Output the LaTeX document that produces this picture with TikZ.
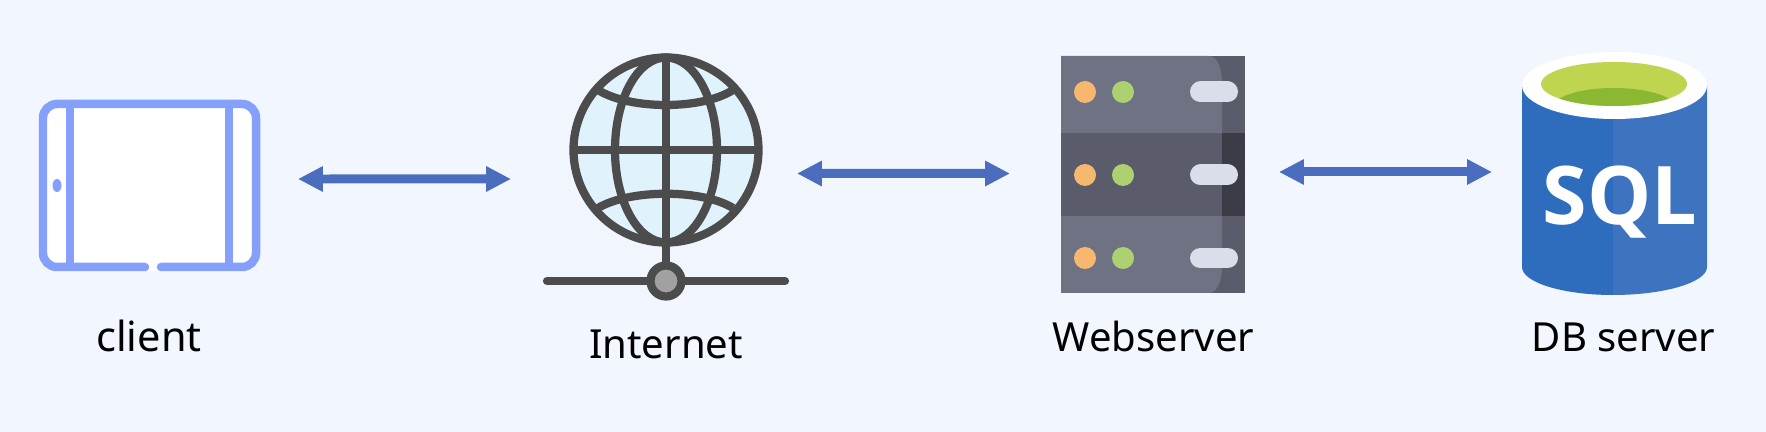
\documentclass[tikz,border=0pt]{standalone}
\usepackage{fontspec}
\setmainfont{Noto Sans}
\newfontfamily\sqlfont{Open Sans}
\usetikzlibrary{arrows.meta,patterns}
\definecolor{pagebg}{HTML}{F2F6FF}
\definecolor{tabletblue}{HTML}{84A0FB}
\definecolor{linkblue}{HTML}{4A6EBD}
\definecolor{globegrey}{HTML}{4C4C4C}
\definecolor{globesea}{HTML}{E0F2FB}
\definecolor{srvlight}{HTML}{6F7282}
\definecolor{srvdark}{HTML}{5A5C6B}
\definecolor{srvdeep}{HTML}{3C3C48}
\definecolor{ledorange}{HTML}{F5B86E}
\definecolor{ledgreen}{HTML}{ADD071}
\definecolor{slotgrey}{HTML}{D9DEEA}
\definecolor{sqlleft}{HTML}{2E6DBE}
\definecolor{sqlright}{HTML}{3E73C0}
\definecolor{sqlgreen}{HTML}{BFD550}
\definecolor{sqlmoss}{HTML}{8BB833}

\begin{document}
\begin{tikzpicture}[
  x=0.02cm, y=-0.02cm,
  iconbox/.style={inner sep=0pt, outer sep=0pt},
  lbl/.style={anchor=base, inner sep=0pt, font=\fontsize{22.8}{27}\selectfont},
  link/.style={linkblue, line width=0.18cm, {Triangle[length=0.5cm,width=0.48cm]}-{Triangle[length=0.5cm,width=0.48cm]}},
  tabletline/.style={tabletblue, line width=0.17cm},
  globeline/.style={globegrey, line width=0.165cm},
  ledo/.style={fill=ledorange},
  ledg/.style={fill=ledgreen},
  slot/.style={slotgrey, line width=0.42cm, line cap=round}
]
  \useasboundingbox (0,0) rectangle (1766,432);
  \fill[pagebg] (0,0) rectangle (1766,432);

  \node[iconbox, minimum width=4.42cm, minimum height=3.42cm] (client) at (149.5,185.5) {};
  \node[iconbox, minimum width=4.92cm, minimum height=4.92cm] (internet) at (666,177) {};
  \node[iconbox, minimum width=3.68cm, minimum height=4.74cm] (webserver) at (1153,174.5) {};
  \node[iconbox, minimum width=3.70cm, minimum height=4.86cm] (dbserver) at (1614.5,173.5) {};

  % tablet
  \fill[white, rounded corners=0.36cm] (39,100) rectangle (260,271);
  \draw[tabletline, line cap=round, rounded corners=0.28cm] (145,267) -- (43,267) -- (43,104) -- (256,104) -- (256,267) -- (161,267);
  \draw[tabletline] (70,104) -- (70,267);
  \draw[tabletline] (229,104) -- (229,267);
  \fill[tabletblue] (57,185.5) ellipse [x radius=4.5, y radius=6.5];

  % globe
  \fill[pagebg!99!gray] (543,54) rectangle (789,300);
  \fill[pattern=north east lines, pattern color=pagebg] (543,54) rectangle (789,300);
  \fill[globesea] (666,150) circle (92.5);
  \draw[globeline] (666,246) -- (666,281);
  \draw[globeline, line cap=round] (547,281) -- (785,281);
  \draw[globeline, fill=black!37] (666,281) circle (15.5);
  \draw[globeline] (666,150) ellipse [x radius=51, y radius=92.5];
  \draw[globeline] (666,57) -- (666,243);
  \draw[globeline] (573,150) -- (759,150);
  \draw[globeline] (598,90) .. controls (630,110) and (702,110) .. (733,90);
  \draw[globeline] (598,208) .. controls (630,189) and (702,189) .. (733,208);
  \draw[globeline] (666,150) circle (92.5);

  % rack
  \fill[srvdark] (1061,56) rectangle (1245,293);
  \fill[srvlight] (1061,56) -- (1209,56) .. controls (1217,56) and (1222,68) .. (1222,82) -- (1222,267) .. controls (1222,281) and (1217,293) .. (1209,293) -- (1061,293) -- cycle;
  \fill[srvdark] (1061,133) rectangle (1222,216);
  \fill[srvdeep] (1222,133) rectangle (1245,216);
  \fill[ledo] (1085,92) circle (11);
  \fill[ledg] (1123,92) circle (11);
  \draw[slot] (1200.5,92) -- (1227.5,92);
  \fill[ledo] (1085,175) circle (11);
  \fill[ledg] (1123,175) circle (11);
  \draw[slot] (1200.5,175) -- (1227.5,175);
  \fill[ledo] (1085,258) circle (11);
  \fill[ledg] (1123,258) circle (11);
  \draw[slot] (1200.5,258) -- (1227.5,258);

  % database
  \fill[sqlleft] (1613,85) -- (1522,85) -- (1522,267) .. controls (1522,282.5) and (1563,295) .. (1613,295) -- cycle;
  \fill[sqlright] (1613,85) -- (1707,85) -- (1707,267) .. controls (1707,282.5) and (1664,295) .. (1613,295) -- cycle;
  \fill[white] (1614.5,85.5) ellipse [x radius=92.5, y radius=33.5];
  \fill[sqlgreen] (1614,84) ellipse [x radius=73, y radius=22];
  \begin{scope}
    \clip (1614,84) ellipse [x radius=73, y radius=22];
    \fill[sqlmoss] (1614,108) ellipse [x radius=62, y radius=20];
  \end{scope}
  \node[inner sep=0pt, anchor=base, white, font=\fontsize{46}{50}\sqlfont\bfseries] (sqltext) at (1620,225) {SQL};

  % captions
  \node[lbl, font=\fontsize{23.6}{27}\selectfont] (clientlbl) at (149,352) {client};
  \node[lbl] (internetlbl) at (666,358) {Internet};
  \node[lbl] (webserverlbl) at (1153.5,352) {Webserver};
  \node[lbl] (dbserverlbl) at (1623.5,352) {DB server};

  \draw[link] ([xshift=0.76cm,yshift=0.13cm]client.east) -- ([xshift=-0.64cm,yshift=-0.04cm]internet.west);
  \draw[link] ([xshift=0.16cm,yshift=0.07cm]internet.east) -- ([xshift=-1.02cm,yshift=0.02cm]webserver.west);
  \draw[link] ([xshift=0.68cm,yshift=0.05cm]webserver.east) -- ([xshift=-0.60cm,yshift=0.03cm]dbserver.west);
\end{tikzpicture}
\end{document}
